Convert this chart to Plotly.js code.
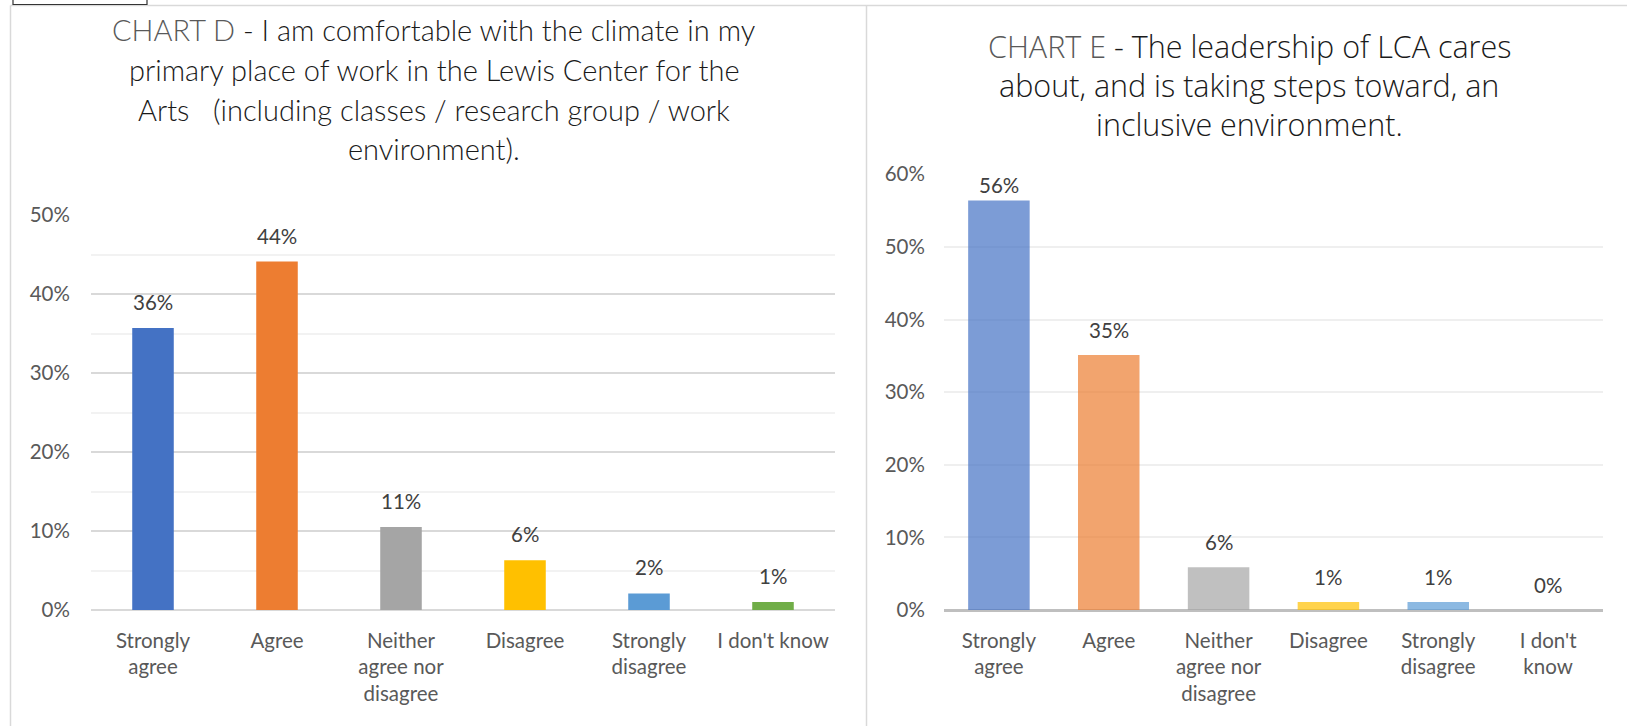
<!DOCTYPE html>
<html>
<head>
<meta charset="utf-8">
<script src="https://cdn.plot.ly/plotly-3.0.1.min.js"></script>
<style>html,body{margin:0;padding:0;background:#fff;}#chart{width:1627px;height:726px;}</style>
</head>
<body>
<div id="chart"></div>
<script>
// ---- Data ----
const categoriesD = ["Strongly<br>agree", "Agree", "Neither<br>agree nor<br>disagree", "Disagree", "Strongly<br>disagree", "I don't know"];
const valuesD = [35.7, 44.1, 10.5, 6.3, 2.1, 1.0];
const labelsD = ["36%", "44%", "11%", "6%", "2%", "1%"];

const categoriesE = ["Strongly<br>agree", "Agree", "Neither<br>agree nor<br>disagree", "Disagree", "Strongly<br>disagree", "I don't<br>know"];
const valuesE = [56.4, 35.1, 5.9, 1.1, 1.1, 0];
const labelsE = ["56%", "35%", "6%", "1%", "1%", "0%"];

const titleD = [
  "<span style='color:#595959'>CHART D</span> - I am comfortable with the climate in my",
  "primary place of work in the Lewis Center for the",
  "Arts\u00a0\u00a0\u00a0(including classes / research group / work",
  "environment)."
];
const titleE = [
  "<span style='color:#595959'>CHART E</span> - The leadership of LCA cares",
  "about, and is taking steps toward, an",
  "inclusive environment."
];

const colors = ["#4472c4", "#ed7d31", "#a5a5a5", "#ffc000", "#5b9bd5", "#70ad47"];

// ---- Geometry ----
const W = 1627, H = 726;
const FONT = "Lato, 'Open Sans', sans-serif";
const dX = [91 / W, 835 / W], dY = [116 / H, 511 / H];
const eX = [944 / W, 1603 / W], eY = [116 / H, 551.7 / H];
const yMaxD = 50, yMaxE = 60;

const traces = [
  {
    type: "bar", x: categoriesD, y: valuesD, xaxis: "x", yaxis: "y", width: 0.335,
    marker: {color: colors}, hoverinfo: "skip"
  },
  {
    type: "bar", x: categoriesE, y: valuesE, xaxis: "x2", yaxis: "y2", width: 0.56,
    marker: {color: colors, opacity: 0.7}, hoverinfo: "skip"
  }
];

const annotations = [];
const labelFont = {family: FONT, size: 20.5, color: "#404040", weight: 400};
valuesD.forEach((v, i) => annotations.push({
  xref: "x", yref: "y", x: categoriesD[i], y: v, text: labelsD[i],
  showarrow: false, yanchor: "middle", yshift: 26, font: labelFont
}));
const ppuE = (eY[1] - eY[0]) * H / yMaxE;
valuesE.forEach((v, i) => annotations.push({
  xref: "x2", yref: "y2", x: categoriesE[i], y: v, text: labelsE[i],
  showarrow: false, yanchor: "middle",
  yshift: Math.min(25, (yMaxE - v) * ppuE - 10.4), font: labelFont
}));

const titleFontD = {family: FONT, size: 29, color: "#1a1a1a", weight: 300};
const titleFontE = {family: "'Open Sans', Lato, sans-serif", size: 30.5, color: "#1a1a1a", weight: 300};
const titleYD = [30, 69.5, 109, 148.4];
titleD.forEach((t, i) => annotations.push({
  xref: "paper", yref: "paper", x: 434 / W, y: 1 - titleYD[i] / H, text: t,
  showarrow: false, xanchor: "center", yanchor: "middle", font: titleFontD
}));
const titleYE = [46, 85, 124];
titleE.forEach((t, i) => annotations.push({
  xref: "paper", yref: "paper", x: 1249 / W, y: 1 - titleYE[i] / H, text: t,
  showarrow: false, xanchor: "center", yanchor: "middle", font: titleFontE
}));

const border = "#d9d9d9";
const shapes = [
  {type: "line", xref: "paper", yref: "paper", x0: 10.5 / W, x1: 10.5 / W, y0: 0, y1: 1 - 5.5 / H, line: {color: border, width: 1.5}},
  {type: "line", xref: "paper", yref: "paper", x0: 10.5 / W, x1: 1, y0: 1 - 5.5 / H, y1: 1 - 5.5 / H, line: {color: border, width: 1.5}},
  {type: "line", xref: "paper", yref: "paper", x0: 866.5 / W, x1: 866.5 / W, y0: 0, y1: 1 - 5.5 / H, line: {color: border, width: 1.5}},
  {type: "path", xref: "paper", yref: "paper",
   path: `M ${13 / W} 1 L ${13 / W} ${1 - 4.5 / H} L ${147 / W} ${1 - 4.5 / H} L ${147 / W} 1`,
   line: {color: "#333333", width: 1.2}}
];

const tickFont = {family: FONT, size: 20.5, color: "#595959", weight: 400};
const layout = {
  width: W, height: H,
  margin: {l: 0, r: 0, t: 0, b: 0},
  paper_bgcolor: "#ffffff", plot_bgcolor: "rgba(0,0,0,0)",
  showlegend: false,
  font: {family: FONT},
  xaxis: {
    domain: dX, anchor: "y", type: "category", showgrid: false, showline: false,
    ticks: "outside", ticklen: 12, tickcolor: "rgba(0,0,0,0)", tickfont: tickFont,
    fixedrange: true
  },
  yaxis: {
    domain: dY, anchor: "x", range: [0, yMaxD], dtick: 10, ticksuffix: "%",
    showgrid: true, gridcolor: "#d9d9d9", gridwidth: 2,
    minor: {dtick: 5, showgrid: true, gridcolor: "#f2f2f2", gridwidth: 2},
    zeroline: true, zerolinecolor: "#d9d9d9", zerolinewidth: 2,
    showline: false, ticks: "outside", ticklen: 16, tickcolor: "rgba(0,0,0,0)",
    tickfont: tickFont, fixedrange: true
  },
  xaxis2: {
    domain: eX, anchor: "y2", type: "category", showgrid: false, showline: false,
    ticks: "outside", ticklen: 12, tickcolor: "rgba(0,0,0,0)", tickfont: tickFont,
    fixedrange: true
  },
  yaxis2: {
    domain: eY, anchor: "x2", range: [0, yMaxE], dtick: 10, ticksuffix: "%",
    showgrid: true, gridcolor: "#efefef", gridwidth: 2,
    zeroline: true, zerolinecolor: "#bfbfbf", zerolinewidth: 3,
    showline: false, ticks: "outside", ticklen: 14, tickcolor: "rgba(0,0,0,0)",
    tickfont: tickFont, fixedrange: true
  },
  annotations: annotations,
  shapes: shapes
};

Plotly.newPlot("chart", traces, layout, {displayModeBar: false, staticPlot: true});
</script>
</body>
</html>
